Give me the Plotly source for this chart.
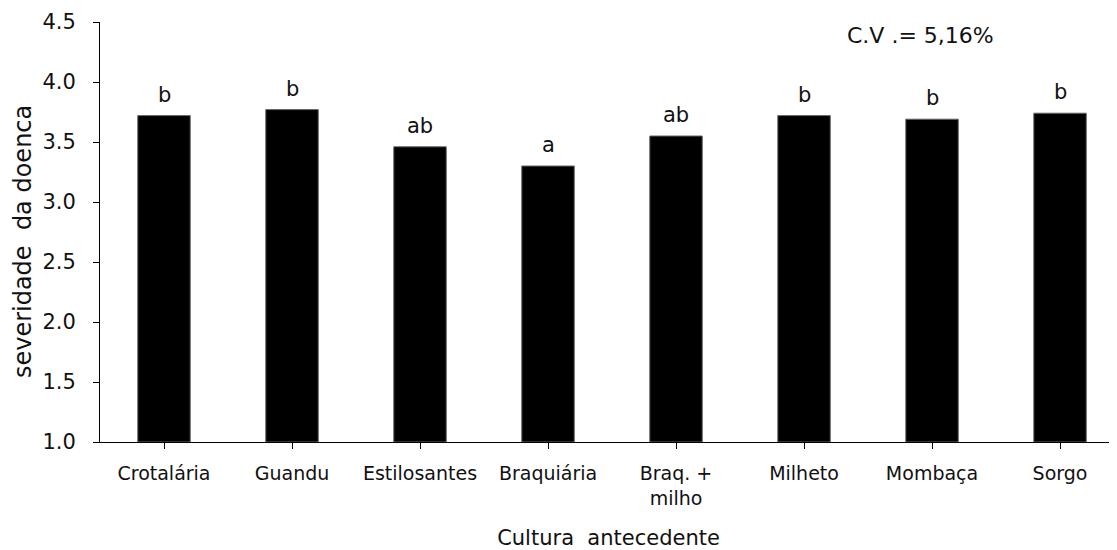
import plotly.graph_objects as go

categories = ["Crotalária", "Guandu", "Estilosantes", "Braquiária", "Braq. +<br>milho", "Milheto", "Mombaça", "Sorgo"]
severity = [3.72, 3.77, 3.46, 3.30, 3.55, 3.72, 3.69, 3.74]
letters = ["b", "b", "ab", "a", "ab", "b", "b", "b"]
y_ticks = [1.0, 1.5, 2.0, 2.5, 3.0, 3.5, 4.0, 4.5]
cv_text = "C.V .= 5,16%"
y_title = "severidade  da doenca"
x_title = "Cultura  antecedente"

FONT = "DejaVu Sans, Verdana, sans-serif"
INK = "#111111"

fig = go.Figure()
fig.add_trace(go.Bar(
    x=list(range(len(categories))),
    y=[v - 1.0 for v in severity],
    base=1.0,
    marker=dict(color="#000000", line=dict(color="#666666", width=1)),
    width=0.41,
    hoverinfo="skip",
))

for i, (v, l) in enumerate(zip(severity, letters)):
    fig.add_annotation(x=i, y=v, text=l, showarrow=False, yanchor="bottom", yshift=7,
                       font=dict(family=FONT, size=21, color=INK))

fig.add_annotation(x=0.807, y=0.969, xref="paper", yref="paper", text=cv_text, showarrow=False,
                   xanchor="center", yanchor="middle", font=dict(family=FONT, size=22, color=INK))

# y-axis title (placed as rotated text to match reference position)
fig.add_annotation(x=-0.0757, y=0.476, xref="paper", yref="paper", text=y_title, showarrow=False,
                   textangle=-90, xanchor="center", yanchor="middle",
                   font=dict(family=FONT, size=24, color=INK))

fig.update_layout(
    width=1109, height=542,
    margin=dict(l=92, r=0, t=14, b=108, autoexpand=False),
    paper_bgcolor="#ffffff", plot_bgcolor="#ffffff",
    showlegend=False,
    font=dict(family=FONT, size=19, color=INK),
)
fig.update_xaxes(
    tickmode="array", tickvals=list(range(len(categories))), ticktext=categories,
    range=[-0.5, 7.445],
    showline=True, linecolor="#000000", linewidth=1,
    ticks="outside", ticklen=6, tickcolor="#000000", ticklabelstandoff=8,
    showgrid=False, zeroline=False, automargin=False,
    title=dict(text=x_title, font=dict(family=FONT, size=21), standoff=22),
    tickfont=dict(family=FONT, size=19),
)
fig.update_yaxes(
    range=[1.0, 4.5], tickvals=y_ticks, ticktext=[f"{t:.1f}" for t in y_ticks],
    showline=True, linecolor="#000000", linewidth=1,
    ticks="outside", ticklen=6, tickcolor="#000000", ticklabelstandoff=13,
    showgrid=False, zeroline=False, automargin=False,
    tickfont=dict(family=FONT, size=21),
)

fig.write_html("out.html")
